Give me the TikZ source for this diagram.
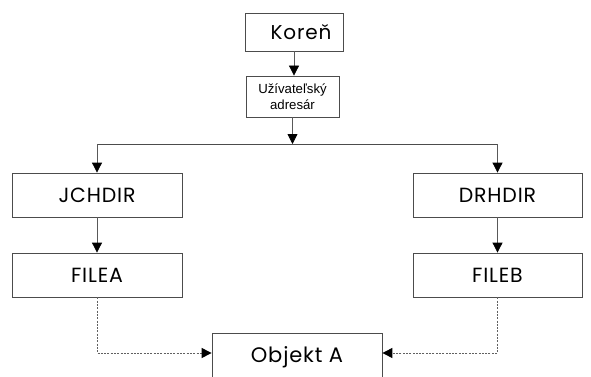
\documentclass[tikz,border=0pt]{standalone}
\usepackage{fontspec}
\setmainfont{Poppins}[LetterSpace=4]
\newfontfamily\labelfont{Liberation Sans}
\usetikzlibrary{arrows.meta}
\begin{document}
\begin{tikzpicture}[x=1pt,y=1pt,
  box/.style={draw=black!70,line width=0.8pt,inner sep=0pt,minimum width=170pt,minimum height=44pt,font=\fontsize{20.5}{22}\selectfont},
  link/.style={draw=black!65,line width=0.8pt,-{Triangle[length=10pt,width=10pt,color=black]}},
  ref/.style={draw=black!62,line width=1pt,dash pattern=on 2pt off 1.3pt,-{Triangle[length=10pt,width=10pt,color=black]}}]
\useasboundingbox (0,0) rectangle (591,-377);
\fill[white] (0,0) rectangle (591,-377);
\node[box,minimum width=98pt,minimum height=38pt,font=\fontsize{20}{22}\selectfont] (root) at (294,-32) {\hspace*{14pt}Koreň};
\node[box,minimum width=93pt,minimum height=41pt,font=\labelfont\fontsize{13.2}{16}\selectfont,align=center] (user) at (292.5,-96.5) {Užívateľský\\adresár};
\node[box] (jch) at (97,-195) {JCHDIR};
\node[box] (fa) at (97,-275) {FILEA};
\node[box,minimum width=169pt] (drh) at (497.5,-195) {DRHDIR};
\node[box,minimum width=169pt] (fb) at (497.5,-275) {FILEB};
\node[box,minimum height=48pt,font=\fontsize{21}{23}\selectfont] (obj) at (297,-357) {Objekt A};
\coordinate (bar) at (0,-144);
\draw[link] (root.south) -- (root.south |- user.north);
\draw[link] (user.south) -- (user.south |- bar);
\draw[draw=black!70,line width=0.8pt] (jch.north |- bar) -- (drh.north |- bar);
\draw[link] (jch.north |- bar) -- (jch.north);
\draw[link] (drh.north |- bar) -- (drh.north);
\draw[link] (jch.south) -- (fa.north);
\draw[link] (drh.south) -- (fb.north);
\draw[ref] (fa.south) |- ([yshift=4pt]obj.west);
\draw[ref] (fb.south) |- ([yshift=4pt]obj.east);
\end{tikzpicture}
\end{document}
